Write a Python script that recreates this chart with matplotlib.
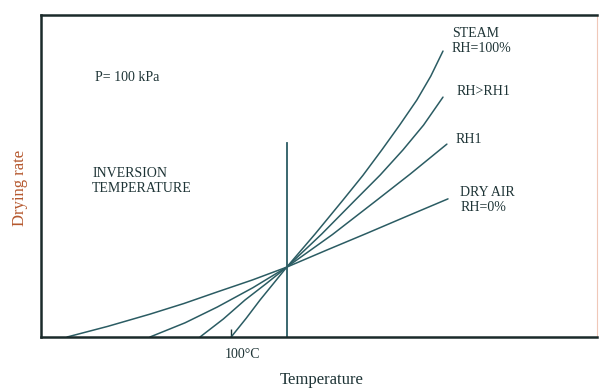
import matplotlib
matplotlib.use('Agg')
import matplotlib.pyplot as plt

# curves (arbitrary temperature / rate units)
steam_x = [34.2, 36.9, 39.4, 41.9, 44.2, 49.3, 54.3, 57.9, 61.3, 64.5, 67.6, 70.1, 72.3]
steam_y = [0.0, 5.8, 11.5, 16.8, 21.7, 32.0, 42.5, 50.2, 58.1, 65.8, 73.6, 81.0, 88.8]
rh_hi_x = [28.6, 32.8, 36.7, 40.6, 44.2, 50.5, 56.5, 61.0, 65.1, 68.8, 72.3]
rh_hi_y = [0.0, 5.6, 11.5, 16.7, 21.7, 32.0, 42.5, 50.3, 58.1, 65.8, 74.5]
rh1_x = [19.6, 25.9, 31.7, 38.1, 44.2, 52.4, 60.4, 66.4, 73.0]
rh1_y = [0.0, 4.4, 9.3, 15.3, 21.7, 31.8, 42.5, 50.6, 59.9]
dry_x = [4.7, 12.0, 19.6, 25.7, 31.7, 38.0, 44.2, 51.4, 58.6, 65.8, 73.2]
dry_y = [0.0, 3.3, 7.1, 10.4, 14.0, 17.7, 21.7, 27.0, 32.2, 37.5, 42.9]

inversion_x = 44.2
inversion_top = 60.2
tick_100c = 34.2

line_col = '#2b5c63'
text_col = '#1e3436'
font = 'Liberation Serif'

fig = plt.figure(figsize=(5.99, 3.90), dpi=100)
ax = fig.add_axes([41 / 599, 1 - 337 / 390, 556 / 599, 322 / 390])
ax.set_xlim(0, 100)
ax.set_ylim(0, 100)

for xs, ys in [(steam_x, steam_y), (rh_hi_x, rh_hi_y), (rh1_x, rh1_y), (dry_x, dry_y)]:
    ax.plot(xs, ys, color=line_col, lw=1.1, solid_joinstyle='round', solid_capstyle='round')
ax.plot([inversion_x, inversion_x], [0, inversion_top], color=line_col, lw=1.3)

# spines
for s in ['left', 'bottom', 'top']:
    ax.spines[s].set_linewidth(1.8)
    ax.spines[s].set_color('#1a2a2a')
ax.spines['right'].set_linewidth(0.8)
ax.spines['right'].set_color('#f0c8b8')

ax.set_yticks([])
ax.set_xticks([tick_100c])
ax.set_xticklabels([''])
ax.tick_params(axis='x', direction='in', length=6, width=1, color=text_col)

tk = dict(fontname=font, fontsize=10, color=text_col)
ax.text(9.7, 80.7, 'P= 100 kPa', va='center', **tk)
ax.text(9.2, 48.5, 'INVERSION\nTEMPERATURE', va='center', linespacing=1.2, **tk)
ax.text(73.9, 91.9, 'STEAM\nRH=100%', va='center', linespacing=1.2, **tk)
ax.text(74.8, 76.1, 'RH>RH1', va='center', **tk)
ax.text(74.6, 61.2, 'RH1', va='center', **tk)
ax.text(75.4, 42.4, 'DRY AIR\nRH=0%', va='center', linespacing=1.2, **tk)
ax.text(36.2, -5.3, '100\u00b0C', ha='center', va='center', **tk)

fig.text(322 / 599, 1 - 380 / 390, 'Temperature', ha='center', va='center',
         fontname=font, fontsize=12, color=text_col)
fig.text(20 / 599, 1 - 188 / 390, 'Drying rate', ha='center', va='center',
         rotation=90, fontname=font, fontsize=12, color='#b5582e')

fig.savefig('out.png', dpi=100)
